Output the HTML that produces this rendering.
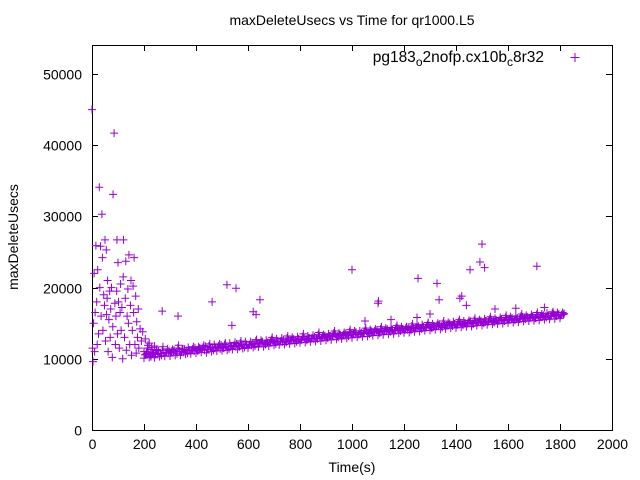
<!DOCTYPE html>
<html><head><meta charset="utf-8"><style>
html,body{margin:0;padding:0;background:#fff}
svg{display:block;font-family:"Liberation Sans",sans-serif}
</style></head><body>
<svg id="chart" width="640" height="480" viewBox="0 0 640 480" xmlns="http://www.w3.org/2000/svg">
<rect width="640" height="480" fill="#fff"/>
<text x="352" y="25" font-size="14" text-anchor="middle">maxDeleteUsecs vs Time for qr1000.L5</text>
<text x="352" y="472" font-size="14" text-anchor="middle">Time(s)</text>
<text transform="translate(18,237) rotate(-90)" font-size="14" text-anchor="middle">maxDeleteUsecs</text>
<g id="axes"></g>
<g id="marks"></g>
<g>
<text x="544" y="62" font-size="15.5" text-anchor="end">pg183<tspan font-size="12" dy="4">o</tspan><tspan dy="-4">2nofp.cx10b</tspan><tspan font-size="12" dy="4">c</tspan><tspan dy="-4">8r32</tspan></text>
<path d="M570.5 57.5h9M575 53v9" stroke="#9400d3" stroke-width="1"/>
</g>
</svg>
<script>
const xTicks=[0,200,400,600,800,1000,1200,1400,1600,1800,2000];
const yTicks=[0,10000,20000,30000,40000,50000];
const bandTimes=[200,220,240,260,280,300,320,340,360,380,400,420,440,460,480,500,520,540,560,580,600,620,640,660,680,700,720,740,760,780,800,820,840,860,880,900,920,940,960,980,1000,1020,1040,1060,1080,1100,1120,1140,1160,1180,1200,1220,1240,1260,1280,1300,1320,1340,1360,1380,1400,1420,1440,1460,1480,1500,1520,1540,1560,1580,1600,1620,1640,1660,1680,1700,1720,1740,1760,1780,1800];
const bandLow=[10100,10200,10150,10300,10350,10400,10480,10500,10650,10700,10800,10900,10850,11000,11100,11150,11200,11300,11350,11450,11500,11600,11650,11700,11800,11900,11950,12000,12100,12150,12250,12300,12400,12450,12500,12600,12650,12750,12800,12900,12950,13050,13100,13150,13250,13300,13400,13450,13500,13600,13650,13700,13800,13850,13950,14000,14100,14150,14200,14300,14350,14450,14500,14550,14650,14700,14800,14850,14900,14950,15050,15100,15150,15250,15300,15350,15400,15500,15550,15600,15700];
const bandHigh=[11000,11300,11100,11200,11400,11300,11500,11400,11600,11700,11700,11900,11800,12000,12100,12000,12200,12300,12200,12400,12400,12500,12600,12600,12700,12800,12900,12900,13000,13100,13100,13200,13300,13400,13400,13500,13600,13600,13700,13800,13900,13900,14000,14100,14200,14200,14300,14400,14400,14500,14500,14600,14700,14800,14800,14900,15000,15000,15100,15200,15200,15300,15400,15400,15500,15600,15600,15700,15800,15800,15900,16000,16000,16100,16200,16200,16300,16400,16400,16500,16500];
const bandExtraA=[10600,10300,11200,10500,10900,11100,10700,11300,10800,11400,11100,11600,11300,11200,11800,11500,11400,11900,11700,11600,12000,11800,12200,12000,12400,12100,12500,12300,12600,12400,12700,12600,12900,12800,13100,12900,13300,13000,13400,13200,13500,13400,13700,13500,13900,13600,14000,13800,14100,13900,14300,14000,14400,14200,14500,14300,14700,14400,14800,14600,14900,14700,15100,14900,15200,15000,15300,15100,15400,15300,15500,15400,15700,15600,15800,15700,15900,15800,16100,16000,16200];
const bandExtraB=[11500,10900,10600,11700,10800,11000,11900,10900,11200,11100,11500,11200,12100,11600,11400,12200,11800,11700,12500,12000,11900,12700,12300,12200,13000,12500,12400,13200,12700,12800,13500,12900,12800,13700,13100,13200,13900,13400,13300,14100,13700,13500,14300,13900,13800,14500,14000,14100,14700,14200,14100,14900,14400,14500,15100,14600,14700,15300,14800,14900,15500,15000,15100,15700,15200,15300,15900,15400,15500,16100,15600,15600,16300,15800,15900,16500,16000,16000,16600,16200,16200];
const scatterT=[0,2,4,6,8,10,12,15,18,20,22,25,28,30,33,35,38,40,42,45,48,50,52,55,56,58,60,62,65,68,70,72,75,78,80,81,85,88,90,92,95,96,98,100,102,105,108,110,112,115,118,120,121,125,128,130,132,135,138,140,142,145,148,150,152,155,158,160,162,165,168,170,172,175,178,180,185,190,195,200,205,210,215,220,225,230,240,250,270,331,462,519,538,554,620,631,646,1000,1100,1102,1254,1327,1335,1415,1422,1440,1454,1492,1500,1510,1550,1630,1711,1740,1050,1150,1250,1300];
const scatterV=[45000,11500,9600,15000,22000,11000,16500,25900,18000,12000,22500,13500,34100,20000,25800,16000,30300,24200,14000,19000,17500,26700,12500,25300,16200,18500,21000,11000,15500,19500,13000,17000,20000,10200,14500,33100,41700,17800,12000,16000,19500,26700,13500,23500,18000,11500,16500,20500,14000,17200,10000,21500,26700,13000,18500,23700,11200,16000,19800,15000,24600,12000,17500,21000,10500,14000,20200,16500,24200,12000,18800,10800,15200,13000,17000,11500,14200,12500,13800,11000,12800,10700,11900,12200,10500,11600,11800,11300,16700,16000,18000,20400,14700,19900,16600,16200,18300,22500,17800,18100,21300,20600,18300,18500,18800,17500,22500,23600,26100,22800,17000,17100,23000,17200,15300,15500,15800,16300];
const X0=92,X1=612,Y0=430,Y1=45,XMAX=2000,YMAX=54070;
function sx(t){return X0+(X1-X0)*t/XMAX}
function sy(v){return Y0-(Y0-Y1)*v/YMAX}
const NS="http://www.w3.org/2000/svg";
const axes=document.getElementById('axes'),marks=document.getElementById('marks');
function el(tag,attrs,parent){const e=document.createElementNS(NS,tag);for(const k in attrs)e.setAttribute(k,attrs[k]);parent.appendChild(e);return e}
const frame=el('rect',{x:X0+.5,y:Y1+.5,width:X1-X0,height:Y0-Y1,fill:'none',stroke:'#000','stroke-width':1},axes);


xTicks.forEach(t=>{const x=Math.round(sx(t))+.5;
 const tk=el('path',{d:`M${x} ${Y0}v-6M${x} ${Y1}v6`,stroke:'#000'},axes);
 
 
 const lb=el('text',{x:x,y:Y0+19,'font-size':14,'text-anchor':'middle'},axes);lb.textContent=t;
 
 });
yTicks.forEach(v=>{const y=Math.round(sy(v))+.5;
 const tk=el('path',{d:`M${X0} ${y}h6M${X1} ${y}h-6`,stroke:'#000'},axes);
 
 
 const lb=el('text',{x:X0-10,y:y+5,'font-size':14,'text-anchor':'end'},axes);lb.textContent=v;
 
 });
function plus(t,v){const x=sx(t),y=sy(v);
 const p=el('path',{d:`M${x-4} ${y}h8M${x} ${y-4}v8`,stroke:'#9400d3','stroke-width':1},marks);
 
 }
bandTimes.forEach((t,i)=>{plus(t,bandLow[i]);plus(t+7,bandExtraA[i]);plus(t+13,bandExtraB[i]);plus(t+4,(bandLow[i]+bandHigh[i])/2);plus(t+10,bandHigh[i]);plus(t+16,(bandExtraA[i]+bandHigh[i])/2);});
scatterT.forEach((t,i)=>plus(t,scatterV[i]));
</script>
</body></html>
